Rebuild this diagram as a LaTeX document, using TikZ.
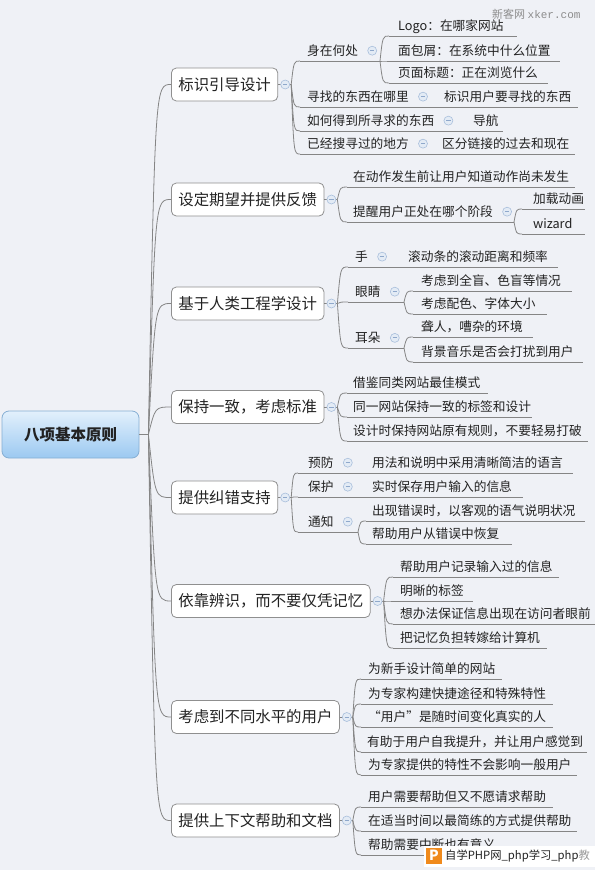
\documentclass[tikz,border=0pt]{standalone}
\usepackage{fontspec}
\setmainfont{Noto Sans CJK SC}
\newfontfamily\wmmono{Liberation Mono}
\usetikzlibrary{calc}
\definecolor{bg}{HTML}{EFF1F6}
\definecolor{txt}{HTML}{222222}
\definecolor{lnc}{HTML}{858585}
\definecolor{boxd}{HTML}{8F8F8F}
\definecolor{cfill}{HTML}{E3EBF5}
\definecolor{cdraw}{HTML}{A9BFDC}
\definecolor{cminus}{HTML}{8FA8CB}
\definecolor{roottop}{HTML}{E2F0FC}
\definecolor{rootbot}{HTML}{9CC9F1}
\definecolor{rootd}{HTML}{85AED3}
\definecolor{wmgray}{HTML}{8C8C8C}
\definecolor{wmorange}{HTML}{F08A1C}
\tikzset{
  conn/.style={draw=lnc, line width=0.8pt},
  uline/.style={draw=lnc, line width=0.8pt},
  leaf/.style={inner sep=0pt, text=txt, font=\fontsize{12.7}{15}\selectfont},
  mainbox/.style={draw=boxd, fill=white, rounded corners=5pt, line width=0.8pt, inner xsep=7pt, inner ysep=0pt, minimum height=33pt, text=txt, font=\fontsize{15.4}{18}\selectfont},
  rootbox/.style={draw=rootd, top color=roottop, bottom color=rootbot, rounded corners=7pt, line width=0.8pt, minimum width=137pt, minimum height=47pt, inner sep=0pt, text=txt, font=\bfseries\fontsize{15.5}{18}\selectfont},
  coll/.style={circle, minimum size=9pt, inner sep=0pt, fill=cfill, draw=cdraw, line width=0.6pt,
    path picture={\draw[cminus, line width=0.9pt] ([xshift=-2.2pt]path picture bounding box.center) -- ([xshift=2.2pt]path picture bounding box.center);}}
}
% name, xs, xt, xe, y, text
\newcommand\leaf[6]{%
  \coordinate (#1s) at (#2,#5);
  \coordinate (#1e) at (#4,#5);
  \draw[uline] (#1s) -- (#1e);
  \path (#3,#5) ++(0,-5.5) node[leaf,anchor=base west] (#1) {#6};
}
\newcommand\conn[2]{\draw[conn] (#1) .. controls ($(#1 |- #2)!0.3!(#2)$) .. (#2);}
\newcommand\collafter[1]{\node[coll] (#1c) at ($(#1.east)+(14,0)$) {};}
\newcommand\branch[3]{% name, y, text
  \node[mainbox, anchor=west] (#1) at (171,#2) {#3};
  \coordinate (#1S) at ($(#1.east)+(13,0)$);
  \draw[conn] (#1.east) -- (#1S);
  \node[coll] (#1c) at ($(#1.east)+(7,0)$) {};
}
\begin{document}
\begin{tikzpicture}[x=1pt,y=-1pt]
\useasboundingbox (0,0) rectangle (595,870);
\fill[bg] (0,0) rectangle (595,870);

% root
\node[rootbox] (root) at (70.5,434.5) {八项基本原则};
\coordinate (R) at ($(root.east)+(9,0)$);
\draw[conn] (root.east) -- (R);

% main branches
\branch{b1}{84.5}{标识引导设计}
\branch{b2}{199.5}{设定期望并提供反馈}
\branch{b3}{303.5}{基于人类工程学设计}
\branch{b4}{407}{保持一致，考虑标准}
\branch{b5}{497.5}{提供纠错支持}
\branch{b6}{601}{依靠辨识，而不要仅凭记忆}
\branch{b7}{717}{考虑到不同水平的用户}
\branch{b8}{820.5}{提供上下文帮助和文档}
\foreach \b in {b1,b2,b3,b4,b5,b6,b7,b8} {\conn{R}{\b.west}}

% branch 1
\leaf{t11}{300}{307}{380}{61}{身在何处}
\leaf{t111}{389}{398}{517}{36}{Logo：在哪家网站}
\leaf{t112}{389}{398}{560}{61}{面包屑：在系统中什么位置}
\leaf{t113}{389}{398}{548}{83}{页面标题：正在浏览什么}
\leaf{t12}{300}{307}{436}{107}{寻找的东西在哪里}
\leaf{t121}{436}{444}{578}{107}{标识用户要寻找的东西}
\leaf{t13}{300}{307}{462}{131}{如何得到所寻求的东西}
\leaf{t131}{462}{473}{503}{131}{导航}
\leaf{t14}{300}{307}{435}{154}{已经搜寻过的地方}
\leaf{t141}{435}{442}{575}{154}{区分链接的过去和现在}
\foreach \t in {t11,t12,t13,t14} {\conn{b1S}{\t s}}
\foreach \t in {t111,t112,t113} {\conn{t11e}{\t s}}
\foreach \t in {t11,t12,t13,t14} {\collafter{\t}}

% branch 2
\leaf{t21}{347}{353}{575}{187}{在动作发生前让用户知道动作尚未发生}
\leaf{t22}{347}{353}{514}{222}{提醒用户正处在哪个阶段}
\leaf{t221}{522}{533}{585}{209}{加载动画}
\leaf{t222}{522}{533}{585}{234}{wizard}
\foreach \t in {t21,t22} {\conn{b2S}{\t s}}
\foreach \t in {t221,t222} {\conn{t22e}{\t s}}
\collafter{t22}

% branch 3
\leaf{t31}{348}{355}{400}{267}{手}
\leaf{t311}{400}{408}{558}{267}{滚动条的滚动距离和频率}
\leaf{t32}{348}{355}{404}{302}{眼睛}
\leaf{t321}{413}{421}{572}{291}{考虑到全盲、色盲等情况}
\leaf{t322}{413}{421}{547}{314}{考虑配色、字体大小}
\leaf{t33}{348}{355}{404}{348}{耳朵}
\leaf{t331}{413}{421}{533}{337}{聋人，嘈杂的环境}
\leaf{t332}{413}{421}{583}{362}{背景音乐是否会打扰到用户}
\foreach \t in {t31,t32,t33} {\conn{b3S}{\t s}}
\foreach \t in {t321,t322} {\conn{t32e}{\t s}}
\foreach \t in {t331,t332} {\conn{t33e}{\t s}}
\foreach \t in {t31,t32,t33} {\collafter{\t}}

% branch 4
\leaf{t41}{347}{353}{488}{393}{借鉴同类网站最佳模式}
\leaf{t42}{347}{353}{532}{417}{同一网站保持一致的标签和设计}
\leaf{t43}{347}{353}{588}{441}{设计时保持网站原有规则，不要轻易打破}
\foreach \t in {t41,t42,t43} {\conn{b4S}{\t s}}

% branch 5
\leaf{t51}{298}{308}{364}{473}{预防}
\leaf{t511}{364}{372}{573}{473}{用法和说明中采用清晰简洁的语言}
\leaf{t52}{298}{308}{364}{497}{保护}
\leaf{t521}{364}{372}{523}{497}{实时保存用户输入的信息}
\leaf{t53}{298}{308}{358}{532}{通知}
\leaf{t531}{366}{372}{585}{521}{出现错误时，以客观的语气说明状况}
\leaf{t532}{366}{372}{512}{544}{帮助用户从错误中恢复}
\foreach \t in {t51,t52,t53} {\conn{b5S}{\t s}}
\foreach \t in {t531,t532} {\conn{t53e}{\t s}}
\foreach \t in {t51,t52,t53} {\collafter{\t}}

% branch 6
\leaf{t61}{393}{400}{559}{577}{帮助用户记录输入过的信息}
\leaf{t62}{393}{400}{473}{601}{明晰的标签}
\leaf{t63}{393}{400}{595}{624}{想办法保证信息出现在访问者眼前}
\leaf{t64}{393}{400}{547}{648}{把记忆负担转嫁给计算机}
\foreach \t in {t61,t62,t63,t64} {\conn{b6S}{\t s}}

% branch 7
\leaf{t71}{361}{368}{502}{679}{为新手设计简单的网站}
\leaf{t72}{361}{368}{553}{704}{为专家构建快捷途径和特殊特性}
\leaf{t73}{361}{368}{553}{727}{“用户”是随时间变化真实的人}
\leaf{t74}{361}{367}{587}{752}{有助于用户自我提升，并让用户感觉到}
\leaf{t75}{361}{368}{577}{775}{为专家提供的特性不会影响一般用户}
\foreach \t in {t71,t72,t73,t74,t75} {\conn{b7S}{\t s}}

% branch 8
\leaf{t81}{361}{368}{553}{807}{用户需要帮助但又不愿请求帮助}
\leaf{t82}{361}{368}{577}{831}{在适当时间以最简练的方式提供帮助}
\leaf{t83}{361}{368}{520}{855}{帮助需要中断也有意义}
\foreach \t in {t81,t82,t83} {\conn{b8S}{\t s}}

% watermarks
\node[anchor=base west, inner sep=0pt, text=wmgray, font=\fontsize{11}{12}\selectfont] (wm1) at (492,19) {新客网 {\wmmono xker.com}};
\fill[white] (424,846) rectangle (595,867);
\node[fill=wmorange, minimum size=16pt, inner sep=0pt, text=white, font=\bfseries\fontsize{14}{14}\selectfont] (wmP) at (434,855.5) {P};
\node[anchor=west, inner sep=0pt, text=txt, font=\fontsize{11.3}{12}\selectfont] (wm2) at (445,855.5) {自学PHP网\_php学习\_php{\color{txt!45}教}};
\end{tikzpicture}
\end{document}
